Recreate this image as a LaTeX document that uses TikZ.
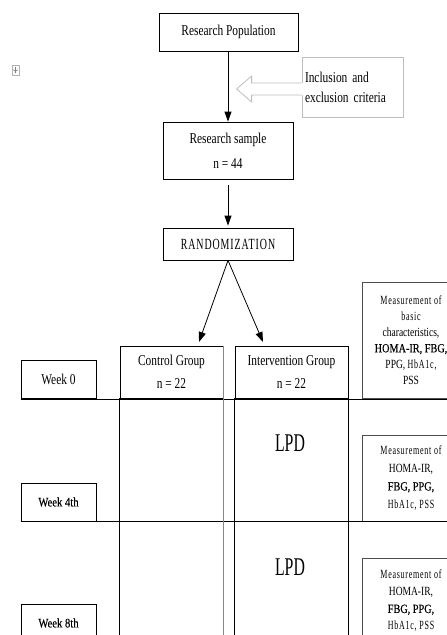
\documentclass[tikz,border=0pt]{standalone}
\usepackage{fontspec}
\setmainfont{Liberation Serif}[FakeStretch=0.76]
\newfontfamily\spacedfont{Liberation Serif}[FakeStretch=0.64,LetterSpace=6]
\newfontfamily\plainfont{Liberation Serif}[FakeStretch=0.82,FakeBold=0.25]
\newfontfamily\bigfont{Liberation Serif}[FakeStretch=0.62]
\usepackage{tikz}
\usetikzlibrary{positioning, arrows.meta, calc}
\definecolor{critgray}{RGB}{190,190,190}
\definecolor{colgray}{RGB}{135,135,135}
\tikzset{
  process/.style={rectangle, draw=black, line width=0.8pt, inner sep=0pt, align=center, font=\fontsize{15}{25}\selectfont},
  weekbox/.style={process, minimum width=75, minimum height=38},
  groupbox/.style={process, minimum height=52, font=\fontsize{15}{23}\selectfont},
  measure/.style={rectangle, draw=black!70, line width=0.8pt, minimum width=98, inner sep=0pt, align=center, font=\fontsize{12.5}{16}\selectfont},
  arrow/.style={line width=0.8pt, -{Triangle[length=10pt,width=7pt]}},
  rule/.style={line width=0.8pt}
}

\begin{document}
\begin{tikzpicture}[x=1pt, y=-1pt]
        \useasboundingbox (0,0) rectangle (447,635);

        % Marca de tabla arriba a la izquierda
        \node (handle) [draw=gray!60, minimum width=7, minimum height=10, inner sep=0pt] at (15.5,70) {};
        \draw [gray, {Latex[length=1.5pt]}-{Latex[length=1.5pt]}] ($(handle.north)+(0,1.5)$) -- ($(handle.south)+(0,-1.5)$);
        \draw [gray, {Latex[length=1.2pt]}-{Latex[length=1.2pt]}] ($(handle.west)+(1,0)$) -- ($(handle.east)+(-1,0)$);

        % Diagrama de flujo superior
        \node (pop) [process, minimum width=139, minimum height=38] at (228.5,32) {Research Population};
        \node (crit) [process, draw=critgray, minimum width=101, minimum height=60, text width=95, inner sep=3pt, align=left, font=\fontsize{15}{20}\selectfont] at (352.5,87) {Inclusion and\\exclusion criteria};
        \node (sample) [process, minimum width=130, minimum height=57] at (228,150.5) {Research sample\\n = 44};
        \node (rand) [process, minimum width=130, minimum height=32, font=\fontsize{15.5}{18}\spacedfont] at (228,244) {RANDOMIZATION};

        \draw [arrow] (pop.south -| sample.north) -- (sample.north);
        \draw [arrow, shorten <=6pt, shorten >=2pt] (sample.south) -- (rand.north);

        % Flecha hueca de criterios
        \fill [white] ($(crit.west)+(1.5,-4)$) -- ++(-51.5,0) -- ++(0,-7) -- ++(-15,13) -- ++(15,13) -- ++(0,-7) -- ++(51.5,0) -- cycle;
        \draw [critgray, line width=0.8pt] ($(crit.west)+(0,-4)$) -- ++(-50,0) -- ++(0,-7) -- ++(-15,13) -- ++(15,13) -- ++(0,-7) -- ++(50,0);

        % Grupos
        \node (ctrl) [groupbox, minimum width=103] at (171.5,372) {Control Group\\n = 22};
        \node (intv) [groupbox, minimum width=113] at (291.5,372) {Intervention Group\\n = 22};

        \coordinate (tipc) at (199,342);
        \coordinate (tipi) at (263,342);
        \draw [arrow] (rand.south) -- (tipc);
        \draw [arrow] (rand.south) -- (tipi);

        % Semanas
        \node (wk0) [weekbox] at (58.5,379.5) {Week 0};
        \node (wk4) [weekbox, font=\fontsize{13}{15}\plainfont] at (58.5,502) {Week 4th};
        \node (wk8) [weekbox, font=\fontsize{13}{15}\plainfont] at (58.5,623) {Week 8th};

        % Mediciones
        \node (m0) [measure, minimum height=116] at (411,340) {{\spacedfont Measurement of}\\{\spacedfont basic}\\characteristics,\\{\fontsize{12.5}{16}\plainfont HOMA-IR, FBG,}\\PPG, {\spacedfont HbA1c,}\\PSS};
        \node (m4) [measure, minimum height=86, font=\fontsize{12.5}{18}\selectfont] at (411,478) {{\spacedfont Measurement of}\\HOMA-IR,\\{\fontsize{12.5}{18}\plainfont FBG, PPG,}\\{\spacedfont HbA1c, PSS}};
        \node (m8) [measure, minimum height=86, font=\fontsize{12.5}{17}\selectfont] at (411,601) {{\spacedfont Measurement of}\\HOMA-IR,\\{\fontsize{12.5}{17}\plainfont FBG, PPG,}\\{\spacedfont HbA1c, PSS}};

        \node (lpd1) [font=\fontsize{25.5}{26}\bigfont] at (290,443) {LPD};
        \node (lpd2) [font=\fontsize{25.5}{26}\bigfont] at (290,567) {LPD};

        % Lineas de la tabla
        \coordinate (bot) at (0,640);
        \coordinate (rgt) at (447,0);
        \draw [rule] (wk0.south west) -- (wk0.south west -| rgt);
        \draw [rule] (wk4.south west) -- (wk4.south west -| rgt);
        \draw [rule] (ctrl.south west) -- (ctrl.south west |- bot);
        \draw [rule, colgray] (ctrl.north east) -- (ctrl.north east |- bot);
        \draw [rule] (intv.south west) -- (intv.south west |- bot);
        \draw [rule] (intv.south east) -- (intv.south east |- bot);
    \end{tikzpicture}
\end{document}
